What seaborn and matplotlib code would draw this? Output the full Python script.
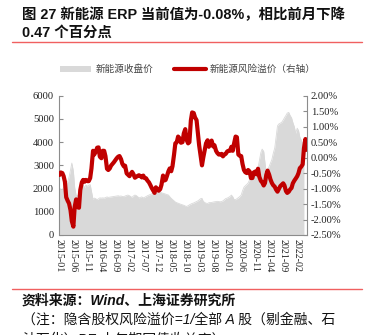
import numpy as np
import pandas as pd
import matplotlib
matplotlib.use("Agg")
import matplotlib.pyplot as plt
import matplotlib.dates as mdates
from matplotlib.lines import Line2D
from matplotlib.patches import Patch
import seaborn as sns

# ---------------- data (semi-monthly, from 2015-01-01) ----------------
erp_pct = [
    -0.56, -0.48, -0.50, -0.60, -0.78, -1.28, -1.40, -1.48, -1.70, -2.05,
    -2.23, -1.60, -1.35, -1.60, -1.62, -1.05, -0.80, -0.72, -0.78, -0.72,
    -0.76, -0.76, -0.66, -0.35, 0.22, 0.10, 0.20, 0.32, 0.33, 0.03,
    -0.02, 0.22, 0.22, 0.05, -0.36, -0.40, -0.35, -0.26, -0.20, -0.15,
    -0.08, -0.02, 0.03, 0.05, -0.05, -0.20, -0.28, -0.26, -0.51, -0.55,
    -0.60, -0.52, -0.46, -0.53, -0.65, -0.62, -0.59, -0.57, -0.60, -0.64,
    -0.58, -0.66, -0.67, -0.74, -0.80, -0.88, -0.98, -1.05, -1.14, -0.96,
    -1.02, -1.07, -1.02, -0.88, -0.58, -0.74, -0.72, -0.60, -0.44, -0.35,
    -0.44, -0.28, 0.10, 0.46, 0.50, 0.68, 0.62, 0.48, 0.50, 0.78,
    0.92, 0.58, 0.46, 0.50, 1.20, 1.46, 1.44, 1.30, 1.21, 0.80,
    0.40, 0.10, -0.25, 0.00, 0.25, 0.46, 0.56, 0.35, 0.48, 0.55,
    0.36, 0.40, 0.22, 0.15, 0.10, 0.10, 0.12, 0.04, 0.10, 0.12,
    0.20, 0.22, 0.22, 0.35, 0.22, 0.45, 0.68, 0.66, 0.10, 0.06,
    0.05, -0.20, -0.40, -0.47, -0.50, -0.40, -0.45, -0.66, -0.66, -0.48,
    -0.45, -0.54, -0.36, -0.62, -0.75, -0.80, -0.90, -0.82, -0.56, -0.42,
    -0.55, -0.70, -0.82, -0.89, -0.94, -1.03, -1.10, -1.02, -0.92, -0.88,
    -0.83, -0.90, -1.08, -1.14, -1.10, -1.03, -0.98, -0.83, -0.74, -0.68,
    -0.60, -0.50, -0.34, -0.30, -0.22, 0.30, 0.60, 0.25,
]

close_price = [
    2020, 1960, 1950, 2050, 2160, 2220, 2300, 2500, 2800, 3100,
    2750, 2050, 1700, 1680, 1780, 1900, 2080, 2160, 2030, 2150,
    2100, 2140, 2170, 1880, 1530, 1590, 1560, 1520, 1560, 1600,
    1590, 1600, 1590, 1610, 1640, 1620, 1630, 1640, 1650, 1660,
    1670, 1680, 1690, 1670, 1680, 1660, 1650, 1680, 1700, 1720,
    1690, 1650, 1620, 1680, 1720, 1700, 1650, 1600, 1620, 1640,
    1600, 1620, 1660, 1690, 1720, 1740, 1770, 1800, 1820, 1850,
    1870, 1880, 1850, 1820, 1800, 1780, 1760, 1740, 1720, 1650,
    1580, 1530, 1470, 1420, 1390, 1370, 1340, 1320, 1300, 1280,
    1250, 1230, 1260, 1300, 1330, 1360, 1380, 1410, 1440, 1470,
    1510, 1560, 1580, 1450, 1400, 1370, 1360, 1390, 1400, 1400,
    1420, 1430, 1440, 1450, 1440, 1430, 1440, 1470, 1520, 1570,
    1590, 1620, 1660, 1720, 1650, 1530, 1520, 1560, 1600, 1650,
    1720, 1900, 2060, 2120, 2180, 2240, 2380, 2500, 2560, 2640,
    2700, 2790, 2890, 3200, 3550, 3700, 3600, 3100, 2680, 2780,
    2950, 3100, 3250, 3500, 3750, 4200, 4700, 4780, 4820, 4850,
    4950, 5050, 5150, 5250, 5280, 5150, 5050, 4850, 4650, 4380,
    4600, 4500, 4220, 4100, 3950, 3850,
]

dates = pd.date_range("2015-01-01", periods=len(erp_pct), freq="SMS")
df_erp = pd.DataFrame({"date": dates, "erp": erp_pct})
df_px = pd.DataFrame({"date": dates[:len(close_price)], "close": close_price})

left_ticks = [0, 1000, 2000, 3000, 4000, 5000, 6000]
right_ticks = [-2.5, -2.0, -1.5, -1.0, -0.5, 0.0, 0.5, 1.0, 1.5, 2.0]
x_tick_dates = pd.date_range("2015-01-01", "2022-02-01", freq="5MS")

title_lines = ["图 27 新能源 ERP 当前值为-0.08%，相比前月下降", "0.47 个百分点"]
legend_labels = ["新能源收盘价", "新能源风险溢价（右轴）"]
source_lines = [
    "资料来源：Wind、上海证券研究所",
    "（注：隐含股权风险溢价=1/全部 A 股（剔金融、石",
    "油石化）PE-十年期国债收益率）",
]

# ---------------- style ----------------
sns.set_theme(style="white")
plt.rcParams["font.family"] = ["Liberation Serif", "Noto Sans CJK SC", "DejaVu Sans"]
plt.rcParams["axes.unicode_minus"] = False

GREY = "#d9d9d9"
RED = "#c00000"
AXC = "#8c8c8c"
SERIF = ["Liberation Serif"]

fig = plt.figure(figsize=(3.69, 3.35), dpi=100)
ax = fig.add_axes([59.5 / 369, 1 - 235 / 335, (306.7 - 59.5) / 369, (235 - 95.7) / 335])

ax.fill_between(df_px["date"], 0, df_px["close"], color=GREY, linewidth=0, zorder=1)
sns.lineplot(data=df_px, x="date", y="close", ax=ax, color=GREY, linewidth=0.6, zorder=1)
ax.set_ylim(0, 6000)
ax.set_yticks(left_ticks)
ax.set_yticklabels([str(v) for v in left_ticks], fontsize=7.6, color="#222222", family=SERIF)
ax.set_xlim(dates[0], dates[-1])
ax.set_xticks(x_tick_dates)
ax.set_xticklabels([d.strftime("%Y-%m") for d in x_tick_dates], rotation=270,
                   fontsize=7.2, color="#222222", family=SERIF)
ax.set_xlabel("")
ax.set_ylabel("")

ax2 = ax.twinx()
sns.lineplot(data=df_erp, x="date", y="erp", ax=ax2, color=RED, linewidth=3.0, zorder=3)
ax2.set_ylim(-2.5, 2.0)
ax2.set_yticks(right_ticks)
ax2.set_yticklabels([f"{v:.2f}%" for v in right_ticks], fontsize=7.6, color="#222222", family=SERIF)
ax2.set_xlim(dates[0], dates[-1])
ax2.set_ylabel("")
ax2.set_xlabel("")

for a in (ax, ax2):
    a.spines["top"].set_visible(False)
    for s in ("left", "right", "bottom"):
        a.spines[s].set_color(AXC)
        a.spines[s].set_linewidth(0.8)
    a.tick_params(axis="both", direction="in", length=3, width=0.8, color=AXC, pad=3)
    a.grid(False)
ax.spines["right"].set_visible(False)
ax2.spines["left"].set_visible(False)
ax2.spines["bottom"].set_visible(False)
ax.tick_params(axis="y", pad=4)
ax.tick_params(axis="x", pad=3)

# legend
handles = [Patch(facecolor=GREY, edgecolor="none"), Line2D([0], [0], color=RED, linewidth=3)]
fig.legend(handles, legend_labels, ncol=2, loc="center", bbox_to_anchor=(187.5 / 369, 1 - 69.5 / 335),
           frameon=False, handlelength=3.3, handleheight=0.6, handletextpad=0.4,
           columnspacing=2.2, labelcolor="#444444",
           prop={"family": ["Noto Sans CJK SC"], "size": 6.9})

# title
fam_bold = ["Liberation Sans", "Noto Sans CJK SC"]
fig.text(22 / 369, 1 - 15 / 335, title_lines[0], fontsize=10.4, fontweight="bold", family=fam_bold,
         ha="left", va="center", color="#111111")
fig.text(22 / 369, 1 - 33 / 335, title_lines[1], fontsize=10.4, fontweight="bold", family=fam_bold,
         ha="left", va="center", color="#111111")
fig.add_artist(Line2D([12 / 369, 362 / 369], [1 - 42.3 / 335] * 2, color="#f06060", linewidth=1.0))

# source
fig.add_artist(Line2D([12 / 369, 362 / 369], [1 - 289.3 / 335] * 2, color="#f06060", linewidth=1.0))
for i, (txt, yy) in enumerate(zip(source_lines, [301, 320, 340])):
    fig.text(22 / 369, 1 - yy / 335, txt, fontsize=10.0, family=fam_bold,
             fontweight="bold" if i == 0 else "normal", fontstyle="italic",
             ha="left", va="center", color="#111111")

fig.savefig("out.png", dpi=100)
